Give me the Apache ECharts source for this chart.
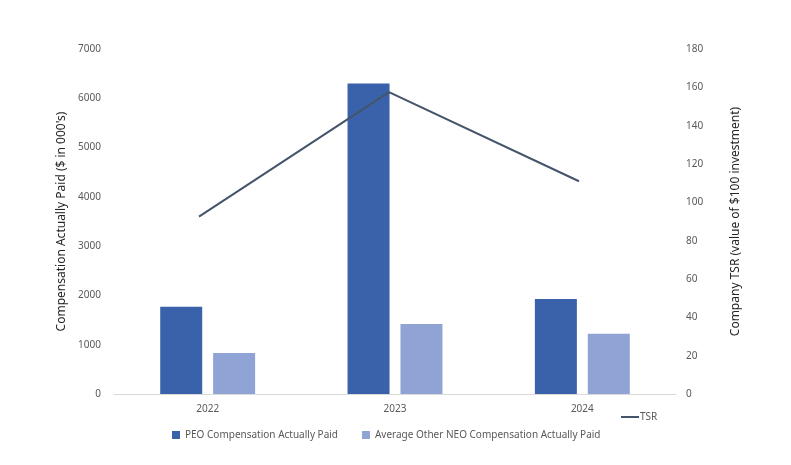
<!DOCTYPE html>
<html>
<head>
<meta charset="utf-8">
<script src="https://cdn.jsdelivr.net/npm/echarts@6/dist/echarts.min.js"></script>
<style>
  html, body { margin: 0; padding: 0; background: #fff; }
  #chart { width: 791px; height: 465px; }
</style>
</head>
<body>
<div id="chart"></div>
<script>
// 数据
const years = ['2022', '2023', '2024'];
const peoPaid = [1770, 6300, 1930];
const neoPaid = [830, 1420, 1220];
const tsr = [92.5, 157.5, 111];

const font = '"Noto Sans", "Liberation Sans", sans-serif';
const grayText = '#595959';

let mycharts = echarts.init(document.getElementById('chart'));
mycharts.setOption({
    animation: false,
    textStyle: { fontFamily: font },
    grid: [
        { left: 114, right: 115, top: 49, bottom: 71 },
        // 折线用的第二个网格，稍微往左偏一点
        { left: 104, right: 117, top: 49, bottom: 71 }
    ],
    legend: [
        {
            data: ['PEO Compensation Actually Paid', 'Average Other NEO Compensation Actually Paid'],
            left: 167,
            top: 425,
            itemWidth: 8,
            itemHeight: 8,
            itemGap: 24,
            icon: 'rect',
            textStyle: { color: grayText, fontSize: 10, fontFamily: font }
        },
        {
            data: ['TSR'],
            left: 616,
            top: 407,
            itemWidth: 18,
            itemHeight: 2,
            itemGap: 2,
            icon: 'rect',
            textStyle: { color: grayText, fontSize: 10, fontFamily: font, padding: [0, 0, 0, -4] }
        }
    ],
    xAxis: [
        {
            type: 'category',
            gridIndex: 0,
            data: years,
            axisLine: { lineStyle: { color: '#D9D9D9' } },
            axisTick: { show: false },
            axisLabel: { color: grayText, fontSize: 10, margin: 10 }
        },
        {
            type: 'category',
            gridIndex: 1,
            data: years,
            show: false
        }
    ],
    yAxis: [
        {
            type: 'value',
            gridIndex: 0,
            min: 0,
            max: 7000,
            interval: 1000,
            name: "Compensation Actually Paid ($ in 000's)",
            nameLocation: 'middle',
            nameRotate: 90,
            nameGap: 39,
            nameTextStyle: { color: '#262626', fontSize: 12, fontFamily: font },
            axisLine: { show: false },
            axisTick: { show: false },
            splitLine: { show: false },
            axisLabel: {
                color: grayText,
                fontSize: 10,
                margin: 13,
                // 不要千分位逗号
                formatter: function (v) { return String(v); }
            }
        },
        {
            type: 'value',
            gridIndex: 1,
            position: 'right',
            min: 0,
            max: 180,
            interval: 20,
            name: 'Company TSR (value of $100 investment)',
            nameLocation: 'middle',
            nameRotate: 90,
            nameGap: 56,
            nameTextStyle: { color: '#262626', fontSize: 12, fontFamily: font },
            axisLine: { show: false },
            axisTick: { show: false },
            splitLine: { show: false },
            axisLabel: { color: grayText, fontSize: 10, margin: 12 }
        }
    ],
    series: [
        {
            name: 'PEO Compensation Actually Paid',
            type: 'bar',
            xAxisIndex: 0,
            yAxisIndex: 0,
            data: peoPaid,
            barWidth: 42,
            barGap: '26%',
            itemStyle: { color: '#3A62AB' }
        },
        {
            name: 'Average Other NEO Compensation Actually Paid',
            type: 'bar',
            xAxisIndex: 0,
            yAxisIndex: 0,
            data: neoPaid,
            barWidth: 42,
            itemStyle: { color: '#8FA3D4' }
        },
        {
            name: 'TSR',
            type: 'line',
            xAxisIndex: 1,
            yAxisIndex: 1,
            data: tsr,
            symbol: 'none',
            lineStyle: { color: '#44546A', width: 2 },
            itemStyle: { color: '#44546A' }
        }
    ]
});
</script>
</body>
</html>
